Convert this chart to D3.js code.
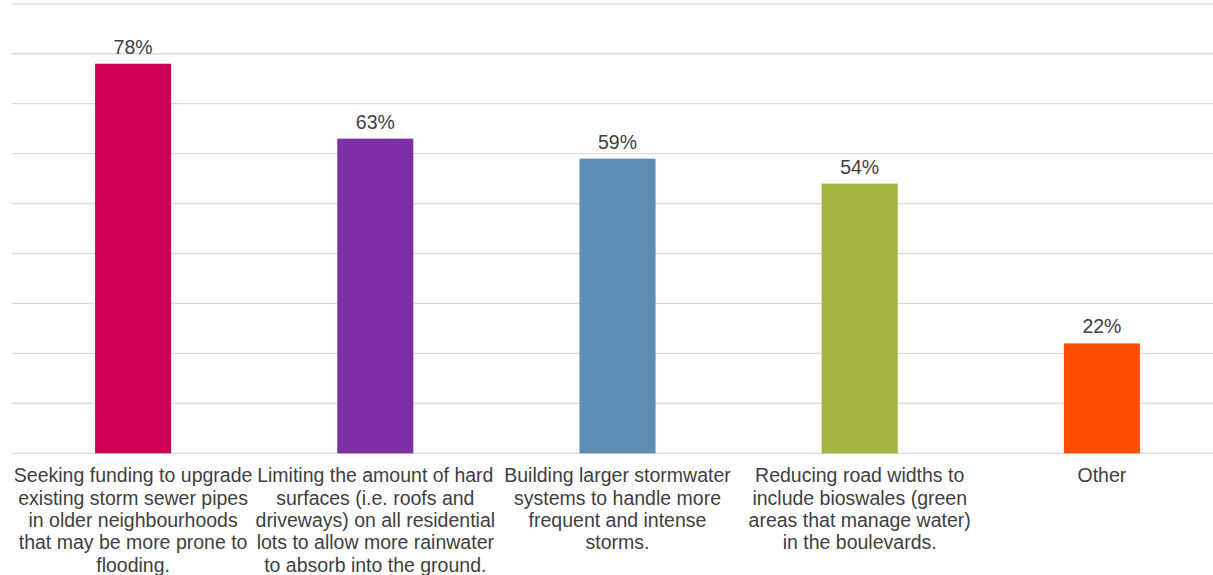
<!DOCTYPE html>
<html>
<head>
<meta charset="utf-8">
<script src="https://cdn.jsdelivr.net/npm/d3@7"></script>
<style>
  html, body { margin: 0; padding: 0; background: #ffffff; }
  svg { display: block; }
  text { font-family: "Liberation Sans", Arial, sans-serif; fill: #404040; }
</style>
</head>
<body>
<svg id="chart" width="1213" height="575"></svg>
<script>
// Survey responses: share of respondents supporting each stormwater measure
const categories = [
  "Seeking funding to upgrade existing storm sewer pipes in older neighbourhoods that may be more prone to flooding.",
  "Limiting the amount of hard surfaces (i.e. roofs and driveways) on all residential lots to allow more rainwater to absorb into the ground.",
  "Building larger stormwater systems to handle more frequent and intense storms.",
  "Reducing road widths to include bioswales (green areas that manage water) in the boulevards.",
  "Other"
];
// Wrapped lines of each category label
const categoryLines = [
  ["Seeking funding to upgrade", "existing storm sewer pipes", "in older neighbourhoods", "that may be more prone to", "flooding."],
  ["Limiting the amount of hard", "surfaces (i.e. roofs and", "driveways) on all residential", "lots to allow more rainwater", "to absorb into the ground."],
  ["Building larger stormwater", "systems to handle more", "frequent and intense", "storms."],
  ["Reducing road widths to", "include bioswales (green", "areas that manage water)", "in the boulevards."],
  ["Other"]
];
const values = [0.78, 0.63, 0.59, 0.54, 0.22];
const barColors = ["#cc0055", "#7f2fa6", "#5e8db3", "#a5b23e", "#ff5000"];
const gridTicks = [0, 0.1, 0.2, 0.3, 0.4, 0.5, 0.6, 0.7, 0.8, 0.9];

const svg = d3.select("#chart");

const x = d3.scaleBand()
  .domain(categories)
  .range([12, 1223])
  .paddingInner(0.686)
  .paddingOuter(0.343);

const y = d3.scaleLinear()
  .domain([0, 0.9])
  .range([453.3, 3.8]);

// Horizontal gridlines
svg.append("g")
  .selectAll("line")
  .data(gridTicks)
  .join("line")
  .attr("x1", 12)
  .attr("x2", 1223)
  .attr("y1", d => y(d))
  .attr("y2", d => y(d))
  .attr("stroke", "#d9d9d9")
  .attr("stroke-width", 1.3);

// Bars
svg.append("g")
  .selectAll("rect")
  .data(values)
  .join("rect")
  .attr("x", (d, i) => x(categories[i]))
  .attr("width", x.bandwidth())
  .attr("y", d => y(d))
  .attr("height", d => y(0) - y(d))
  .attr("fill", (d, i) => barColors[i]);

// Value labels
const fmt = d3.format(".0%");
svg.append("g")
  .selectAll("text")
  .data(values)
  .join("text")
  .attr("x", (d, i) => x(categories[i]) + x.bandwidth() / 2)
  .attr("y", d => y(d) - 10)
  .attr("text-anchor", "middle")
  .attr("font-size", "19.5px")
  .text(d => fmt(d));

// Category labels below the baseline
const labels = svg.append("g")
  .selectAll("text")
  .data(categories)
  .join("text")
  .attr("x", d => x(d) + x.bandwidth() / 2)
  .attr("y", 482.3)
  .attr("text-anchor", "middle")
  .attr("font-size", "19.5px");

labels.each(function(d, i) {
  const t = d3.select(this);
  categoryLines[i].forEach((line, j) => {
    t.append("tspan")
      .attr("x", x(d) + x.bandwidth() / 2)
      .attr("dy", j === 0 ? 0 : 22.35)
      .text(line);
  });
});
</script>
</body>
</html>
